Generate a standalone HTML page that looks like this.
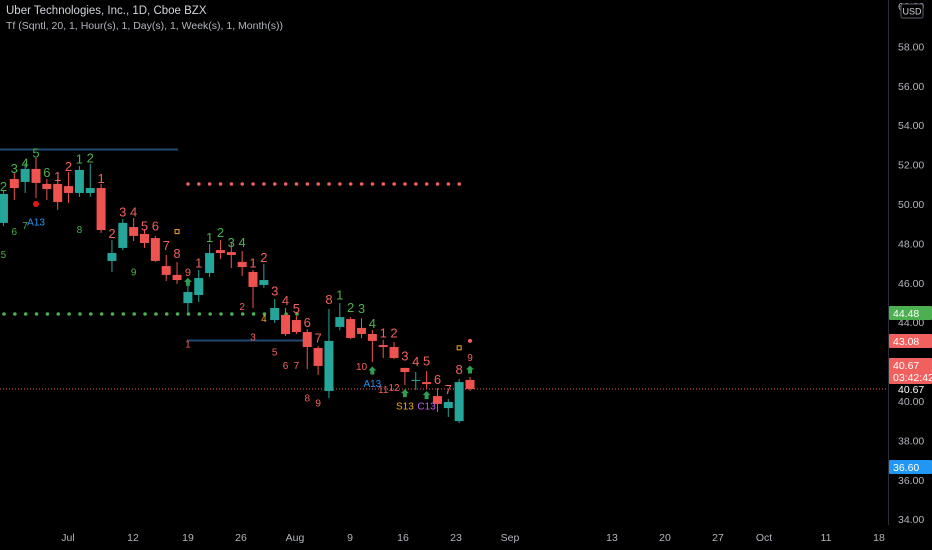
<!DOCTYPE html>
<html><head><meta charset="utf-8"><style>
html,body{margin:0;padding:0;background:#000;width:932px;height:550px;overflow:hidden;font-family:"Liberation Sans",sans-serif}
#wrap{position:relative;width:932px;height:550px}
.hdr{position:absolute;left:6px;color:#d1d4dc;font-size:11px;white-space:nowrap}
</style></head><body>
<div id="wrap">
<svg id="chart" width="932" height="550" style="position:absolute;left:0;top:0"></svg>
<div class="hdr" style="top:5px;font-size:11.5px">Uber Technologies, Inc., 1D, Cboe BZX</div>
<div class="hdr" style="top:20px;color:#b2b5be;font-size:10.5px">Tf (Sqntl, 20, 1, Hour(s), 1, Day(s), 1, Week(s), 1, Month(s))</div>
</div>
<script>
const opens=[49.04,51.27,51.12,51.78,51.02,51.02,50.91,50.56,50.56,50.81,47.11,47.77,48.83,48.48,48.27,46.85,46.40,44.97,45.38,46.50,47.66,47.56,47.06,46.55,45.89,44.11,44.37,44.11,43.50,42.69,40.51,43.76,44.16,43.71,43.40,42.84,42.74,41.68,41.02,40.96,40.25,39.64,38.98,41.07];
const highs=[50.71,51.57,52.08,52.34,51.27,51.27,51.62,51.93,52.03,51.02,48.17,49.24,49.29,48.73,48.38,47.41,47.06,45.89,46.65,47.97,48.17,48.07,47.61,46.65,46.95,45.18,44.72,44.31,43.65,42.79,44.67,44.97,44.26,44.21,43.60,43.10,42.99,41.68,41.47,41.52,40.66,40.10,41.12,41.22];
const lows=[48.88,50.20,50.56,50.30,50.20,49.70,50.05,50.36,50.36,48.53,46.55,47.66,48.12,47.77,47.06,46.09,45.94,44.47,45.03,46.29,47.21,46.75,46.35,44.72,45.74,43.96,43.30,43.40,41.62,41.32,40.15,43.60,43.15,43.20,41.98,42.18,42.13,40.81,40.56,40.61,39.44,39.19,38.88,40.51];
const closes=[50.51,50.81,51.78,51.07,50.76,50.10,50.56,51.73,50.81,48.68,47.51,49.04,48.38,48.02,47.11,46.40,46.14,45.53,46.24,47.51,47.51,47.41,46.80,45.79,46.14,44.72,43.40,43.50,42.74,41.78,43.05,44.26,43.20,43.40,43.05,42.74,42.18,41.47,41.07,40.86,39.85,39.95,40.96,40.61];
const yTicks=[58,56,54,52,50,48,46,44,42,40,38,36,34];
const xLabels=["Jul","12","19","26","Aug","9","16","23","Sep","13","20","27","Oct","11","18"];
const xLabelPos=[68,133,188,241,295,350,403,456,510,612,665,718,764,826,879];
// annotations: [candleIndex, price, text, color, size]
const annot=[[0,50.9,"2","g",13],[1,51.8,"3","g",13],[2,52.1,"4","g",13],[3,52.6,"5","g",13],[4,51.6,"6","g",13],[5,51.4,"1","r",13],[6,51.9,"2","r",13],[7,52.3,"1","g",13],[8,52.35,"2","g",13],[9,51.3,"1","r",13],[10,48.5,"2","r",13],[11,49.6,"3","r",13],[12,49.6,"4","r",13],[13,48.9,"5","r",13],[14,48.9,"6","r",13],[15,47.9,"7","r",13],[16,47.5,"8","r",13],[17,46.55,"9","r",11],[18,47.0,"1","r",13],[19,48.3,"1","g",13],[20,48.55,"2","g",13],[21,48.05,"3","g",13],[22,48.05,"4","g",13],[23,47.0,"1","r",13],[24,47.3,"2","r",13],[25,45.6,"3","r",13],[26,45.1,"4","r",13],[27,44.7,"5","r",13],[28,44.0,"6","r",13],[29,43.2,"7","r",13],[30,45.15,"8","r",13],[31,45.4,"1","g",13],[32,44.75,"2","g",13],[33,44.7,"3","g",13],[34,43.95,"4","g",13],[35,43.45,"1","r",13],[36,43.45,"2","r",13],[37,42.3,"3","r",13],[38,42.0,"4","r",13],[39,42.05,"5","r",13],[40,41.1,"6","r",13],[41,40.6,"7","r",13],[42,41.6,"8","r",13],[43,42.2,"9","r",10],
[1,48.6,"6","g",10],[2,48.9,"7","g",10],[7,48.7,"8","g",10],[0,47.45,"5","g",10],[12,46.55,"9","g",10],[22,44.8,"2","r",10],[24,44.2,"4","o",10],[17,42.9,"1","r",10],[23,43.25,"3","r",10],[25,42.5,"5","r",10],[26,41.8,"6","r",10],[27,41.8,"7","r",10],[28,40.15,"8","r",10],[29,39.9,"9","r",10],[33,41.75,"10","r",10],[35,40.6,"11","r",10],[36,40.7,"12","r",10],[3,49.1,"A13","b",10],[34,40.9,"A13","b",10],[37,39.75,"S13","o",10],[39,39.75,"C13","p",10]];
const arrows=[[17,46.05],[34,41.55],[37,40.4],[39,40.3],[43,41.6]];
const C={g:"#4caf50",r:"#f0605e",o:"#f5a623",b:"#2196f3",p:"#c45ee8"};
const svgNS="http://www.w3.org/2000/svg";const svg=document.getElementById('chart');
function px(i){return 470-(opens.length-1-i)*10.85}
function py(p){return 401-(p-40)*19.7}
function mk(t,a,parent){const e=document.createElementNS(svgNS,t);for(const k in a)e.setAttribute(k,a[k]);(parent||svg).appendChild(e);return e}
// axis separator
const sep=mk('line',{x1:888.5,y1:0,x2:888.5,y2:525,stroke:'#2a2e39'});


yTicks.forEach(v=>{const t=mk('text',{x:898,y:py(v)+4,fill:'#b2b5be','font-size':10.5});t.textContent=v.toFixed(2);

});
const t60=mk('text',{x:898,y:10,fill:'#b2b5be','font-size':10.5});t60.textContent='60.00';


xLabels.forEach((l,i)=>{const t=mk('text',{x:xLabelPos[i],y:541,fill:'#b2b5be','font-size':10.5,'text-anchor':'middle'});t.textContent=l;

});
// level lines
const l1=mk('line',{x1:0,y1:149.5,x2:178,y2:149.5,stroke:'#1f4a73','stroke-width':2});


const l2=mk('line',{x1:187,y1:340.5,x2:305,y2:340.5,stroke:'#1f4a73','stroke-width':2});


for(let x=188;x<=462;x+=10.85){const d=mk('circle',{cx:x,cy:184,r:1.8,fill:'#f0605e'});

}
for(let x=4;x<=300;x+=10.85){const d=mk('circle',{cx:x,cy:314,r:1.8,fill:'#4caf50'});

}
const last=closes[closes.length-1];
const pl=mk('line',{x1:0,y1:py(last),x2:888,y2:py(last),stroke:'#f0605e','stroke-width':1,'stroke-dasharray':'1 2'});


// candles
opens.forEach((o,i)=>{const c=closes[i];const up=c>=o;const col=up?'#26a69a':'#ef5350';const x=px(i);
const g=mk('g',{});


mk('line',{x1:x,y1:py(highs[i]),x2:x,y2:py(lows[i]),stroke:col,'stroke-width':1},g);
const top=py(Math.max(o,c)),h=Math.max(1,Math.abs(py(o)-py(c)));
mk('rect',{x:x-4.5,y:top,width:9,height:h,fill:col},g);});
annot.forEach(a=>{const t=mk('text',{x:px(a[0]),y:py(a[1])+a[4]/2.8,fill:C[a[3]],'font-size':a[4],'text-anchor':'middle'});t.textContent=a[2];

});
arrows.forEach(a=>{const x=px(a[0]),y=py(a[1]);const p=mk('polygon',{points:`${x},${y-4} ${x+4},${y} ${x+2},${y} ${x+2},${y+4} ${x-2},${y+4} ${x-2},${y} ${x-4},${y}`,fill:'#2e9e4f'});

});
const rd=mk('circle',{cx:px(3),cy:py(50.0),r:3,fill:'#e0191b'});


const rd2=mk('circle',{cx:px(43),cy:py(43.05),r:2,fill:'#f0605e'});


[[16,48.6],[42,42.7]].forEach(s=>{const r=mk('rect',{x:px(s[0])-2,y:py(s[1])-2,width:4,height:4,fill:'none',stroke:'#f5a623'});

});
// price badges
function badge(y,h,col,lines,name){const g=mk('g',{});


mk('rect',{x:889,y:y,width:43,height:h,fill:col,rx:1},g);
lines.forEach((s,k)=>{const t=mk('text',{x:893,y:y+11+k*12,fill:'#fff','font-size':10.5},g);t.textContent=s;});}
badge(306,14,'#4caf50',['44.48'],'level-badge-44-48');
badge(334,14,'#f0605e',['43.08'],'level-badge-43-08');
badge(358,26,'#f0605e',['40.67','03:42:42'],'last-price-badge');
badge(460,14,'#2196f3',['36.60'],'level-badge-36-60');
const lt=mk('text',{x:898,y:393,fill:'#fff','font-size':10.5});lt.textContent='40.67';


const ug=mk('g',{});


mk('rect',{x:901,y:4,width:22,height:14,fill:'#000',stroke:'#5d606b',rx:2},ug);
const ut=mk('text',{x:912,y:14.5,fill:'#d1d4dc','font-size':9,'text-anchor':'middle'},ug);ut.textContent='USD';
</script>
</body></html>
